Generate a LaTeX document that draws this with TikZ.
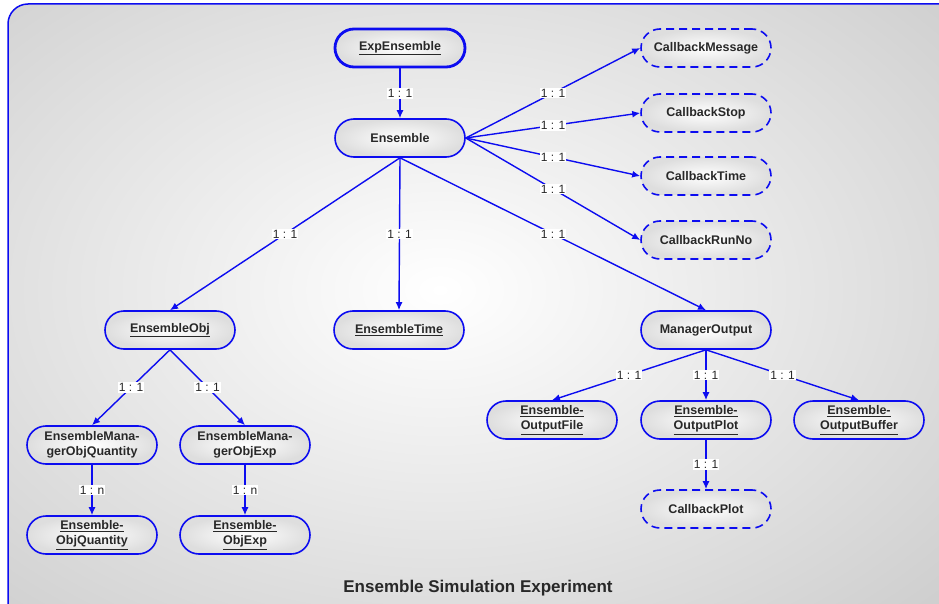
\documentclass[tikz,border=0pt]{standalone}
\usepackage{fontspec}
\setmainfont{Liberation Sans}
\usepackage{tikz}
\usetikzlibrary{arrows.meta,positioning}
\definecolor{linkblue}{RGB}{12,12,240}
\definecolor{textgray}{RGB}{40,40,40}
\tikzstyle{unit}=[draw=linkblue,line width=1.6pt,rectangle,rounded corners=19pt,minimum width=130pt,minimum height=38pt,inner sep=2pt,inner color=white,outer color=black!13,font=\fontsize{12.5}{15.5}\selectfont\bfseries,text=textgray,align=center]
\tikzstyle{root}=[unit,line width=2.8pt]
\tikzstyle{callback}=[unit,dash pattern=on 8pt off 5pt]
\tikzstyle{link}=[draw=linkblue,line width=1.4pt,-{Latex[length=8pt,width=7pt]}]
\tikzstyle{ratio}=[fill=white,inner sep=1.2pt,font=\fontsize{12}{12}\selectfont,text=textgray]

\begin{document}
\begin{tikzpicture}[x=1pt,y=-1pt]
  \useasboundingbox (0,0) rectangle (939,604);
  \begin{scope}
    \clip[rounded corners=20pt] (8,4) rectangle (960,625);
    \fill[black!25] (0,0) rectangle (939,604);
    \shade[inner color=white,outer color=black!25] (440,290) ellipse (900 and 600);
  \end{scope}
  \draw[linkblue,line width=1.5pt,rounded corners=20pt] (8,4) rectangle (960,625);

  \node[root] (expens) at (400,48) {\underline{ExpEnsemble}};
  \node[unit] (ens) at (400,138) {Ensemble};

  \node[callback] (cbmsg) at (706,48) {CallbackMessage};
  \node[callback] (cbstop) at (706,113) {CallbackStop};
  \node[callback] (cbtime) at (706,176) {CallbackTime};
  \node[callback] (cbrun) at (706,240) {CallbackRunNo};

  \node[unit] (ensobj) at (170,330) {\underline{EnsembleObj}};
  \node[unit] (enstime) at (399,330) {\underline{EnsembleTime}};
  \node[unit] (mgrout) at (706,330) {ManagerOutput};

  \node[unit] (mgrquant) at (92,445) {EnsembleMana-\\gerObjQuantity};
  \node[unit] (mgrexp) at (245,445) {EnsembleMana-\\gerObjExp};
  \node[unit] (objquant) at (92,535) {\underline{Ensemble-}\\\underline{ObjQuantity}};
  \node[unit] (objexp) at (245,535) {\underline{Ensemble-}\\\underline{ObjExp}};

  \node[unit] (outfile) at (552,420) {\underline{Ensemble-}\\\underline{OutputFile}};
  \node[unit] (outplot) at (706,420) {\underline{Ensemble-}\\\underline{OutputPlot}};
  \node[unit] (outbuf) at (859,420) {\underline{Ensemble-}\\\underline{OutputBuffer}};
  \node[callback] (cbplot) at (706,509) {CallbackPlot};

  \node[font=\fontsize{17}{17}\selectfont\bfseries,text=textgray] (title) at (478,588) {Ensemble Simulation Experiment};

  \draw[link] (expens.south) -- node[ratio] {1 : 1} (ens.north);
  \foreach \cb in {cbmsg,cbstop,cbtime,cbrun}
    \draw[link] (ens.east) -- node[ratio] {1 : 1} (\cb.west);
  \foreach \sub in {ensobj,enstime,mgrout}
    \draw[link] (ens.south) -- node[ratio] {1 : 1} (\sub.north);

  \draw[link] (ensobj.south) -- node[ratio] {1 : 1} (mgrquant.north);
  \draw[link] (ensobj.south) -- node[ratio] {1 : 1} (mgrexp.north);
  \draw[link] (mgrquant.south) -- node[ratio] {1 : n} (objquant.north);
  \draw[link] (mgrexp.south) -- node[ratio] {1 : n} (objexp.north);

  \foreach \out in {outfile,outplot,outbuf}
    \draw[link] (mgrout.south) -- node[ratio] {1 : 1} (\out.north);
  \draw[link] (outplot.south) -- node[ratio] {1 : 1} (cbplot.north);
\end{tikzpicture}
\end{document}
